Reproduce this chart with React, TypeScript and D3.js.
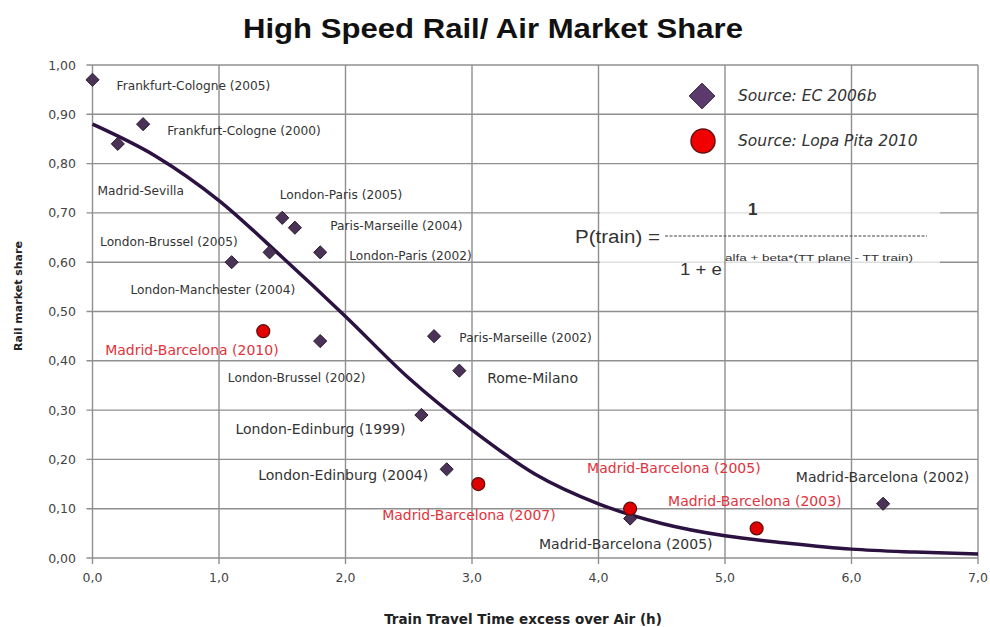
import React, { useRef, useEffect } from "react"
import * as d3 from "d3"

// EC 2006b observations (diamonds)
const ecNames = [
  "Frankfurt-Cologne (2005)",
  "Frankfurt-Cologne (2000)",
  "Madrid-Sevilla",
  "London-Paris (2005)",
  "Paris-Marseille (2004)",
  "London-Brussel (2005)",
  "London-Manchester (2004)",
  "London-Paris (2002)",
  "London-Brussel (2002)",
  "Paris-Marseille (2002)",
  "Rome-Milano",
  "London-Edinburg (1999)",
  "London-Edinburg (2004)",
  "Madrid-Barcelona (2005)",
  "Madrid-Barcelona (2002)",
]
const ecTime = [0.0, 0.4, 0.2, 1.5, 1.6, 1.4, 1.1, 1.8, 1.8, 2.7, 2.9, 2.6, 2.8, 4.25, 6.25]
const ecShare = [0.97, 0.88, 0.84, 0.69, 0.67, 0.62, 0.6, 0.62, 0.44, 0.45, 0.38, 0.29, 0.18, 0.08, 0.11]

// Lopa Pita 2010 observations (circles)
const lpNames = [
  "Madrid-Barcelona (2010)",
  "Madrid-Barcelona (2007)",
  "Madrid-Barcelona (2005)",
  "Madrid-Barcelona (2003)",
]
const lpTime = [1.35, 3.05, 4.25, 5.25]
const lpShare = [0.46, 0.15, 0.1, 0.06]

// fitted logit curve
const curveTime = [0, 0.5, 1, 1.5, 2, 2.5, 3, 3.5, 4, 4.5, 5, 5.5, 6, 6.5, 7]
const curveShare = [0.88, 0.815, 0.725, 0.61, 0.49, 0.365, 0.26, 0.17, 0.11, 0.07, 0.045, 0.03, 0.018, 0.012, 0.008]

const xTicks = [0, 1, 2, 3, 4, 5, 6, 7]
const yTicks = [0, 0.1, 0.2, 0.3, 0.4, 0.5, 0.6, 0.7, 0.8, 0.9, 1.0]

// label anchors (start of text) in data units
const ecLabelTime = [0.19, 0.59, 0.04, 1.48, 1.88, 0.06, 0.3, 2.03, 1.07, 2.9, 3.12, 1.13, 1.31, 3.53, 5.56]
const ecLabelShare = [0.957, 0.866, 0.745, 0.736, 0.673, 0.641, 0.544, 0.613, 0.365, 0.446, 0.363, 0.26, 0.166, 0.026, 0.162]
const lpLabelTime = [0.1, 2.29, 3.91, 4.55]
const lpLabelShare = [0.42, 0.085, 0.18, 0.114]

const bigLabels = new Set([10, 11, 12, 13, 14])

const W = 990
const H = 627

const App: React.FC = () => {
  const svgRef = useRef<SVGSVGElement>(null)

  useEffect(() => {
    if (!svgRef.current) return
    const svg = d3.select(svgRef.current)
    svg.selectAll("*").remove()

    const x = d3.scaleLinear().domain([0, 7]).range([92.5, 978])
    const y = d3.scaleLinear().domain([0, 1]).range([558, 65])
    const gridColor = "#8f8f8f"
    const font = "DejaVu Sans, Verdana, sans-serif"
    const sans = "Liberation Sans, Arial, sans-serif"

    svg.append("rect").attr("width", W).attr("height", H).attr("fill", "#fff")

    // horizontal grid
    svg.selectAll(".hgrid")
      .data(yTicks)
      .enter()
      .append("line")
      .attr("x1", x(0) - 6)
      .attr("x2", x(7))
      .attr("y1", (d) => y(d))
      .attr("y2", (d) => y(d))
      .attr("stroke", gridColor)
      .attr("stroke-width", 1.4)

    // formula backdrop fades the horizontal lines
    svg.append("rect")
      .attr("x", 600)
      .attr("y", 190)
      .attr("width", 340)
      .attr("height", 78)
      .attr("fill", "#fff")
      .attr("opacity", 0.7)

    // vertical grid
    svg.selectAll(".vgrid")
      .data(xTicks)
      .enter()
      .append("line")
      .attr("x1", (d) => x(d))
      .attr("x2", (d) => x(d))
      .attr("y1", y(1))
      .attr("y2", y(0) + 6)
      .attr("stroke", gridColor)
      .attr("stroke-width", 1.4)

    // tick labels
    svg.selectAll(".ylab")
      .data(yTicks)
      .enter()
      .append("text")
      .attr("x", 76)
      .attr("y", (d) => y(d) + 4.5)
      .attr("text-anchor", "end")
      .attr("font-family", font)
      .attr("font-size", 12.5)
      .attr("fill", "#444")
      .text((d) => d3.format(".2f")(d).replace(".", ","))

    svg.selectAll(".xlab")
      .data(xTicks)
      .enter()
      .append("text")
      .attr("x", (d) => x(d))
      .attr("y", 582)
      .attr("text-anchor", "middle")
      .attr("font-family", font)
      .attr("font-size", 12.5)
      .attr("fill", "#444")
      .text((d) => d3.format(".1f")(d).replace(".", ","))

    // title and axis titles
    svg.append("text")
      .attr("x", 243)
      .attr("y", 38)
      .attr("font-family", sans)
      .attr("font-weight", "bold")
      .attr("font-size", 28)
      .attr("textLength", 500)
      .attr("lengthAdjust", "spacingAndGlyphs")
      .attr("fill", "#111")
      .text("High Speed Rail/ Air Market Share")

    svg.append("text")
      .attr("x", 523)
      .attr("y", 624)
      .attr("text-anchor", "middle")
      .attr("font-family", font)
      .attr("font-weight", "bold")
      .attr("font-size", 13.5)
      .attr("fill", "#222")
      .text("Train Travel Time excess over Air (h)")

    svg.append("text")
      .attr("transform", "translate(22,296) rotate(-90)")
      .attr("text-anchor", "middle")
      .attr("font-family", font)
      .attr("font-weight", "bold")
      .attr("font-size", 11)
      .attr("fill", "#222")
      .text("Rail market share")

    // logit curve
    const line = d3
      .line<number>()
      .x((d) => x(d))
      .y((_, i) => y(curveShare[i]))
      .curve(d3.curveMonotoneX)
    svg.append("path")
      .attr("d", line(curveTime))
      .attr("fill", "none")
      .attr("stroke", "#2b1240")
      .attr("stroke-width", 3.5)

    // diamonds
    const diamond = d3.symbol().type(d3.symbolDiamond2).size(110)
    svg.selectAll(".ec")
      .data(ecTime)
      .enter()
      .append("path")
      .attr("d", diamond)
      .attr("transform", (d, i) => `translate(${x(d)},${y(ecShare[i])})`)
      .attr("fill", "#4a3356")
      .attr("stroke", "#2a1a30")
      .attr("stroke-width", 1)

    // circles
    svg.selectAll(".lp")
      .data(lpTime)
      .enter()
      .append("circle")
      .attr("cx", (d) => x(d))
      .attr("cy", (_, i) => y(lpShare[i]))
      .attr("r", 6.5)
      .attr("fill", "#e00000")
      .attr("stroke", "#5a1010")
      .attr("stroke-width", 1.2)

    // point labels
    svg.selectAll(".eclab")
      .data(ecNames)
      .enter()
      .append("text")
      .attr("x", (_, i) => x(ecLabelTime[i]))
      .attr("y", (_, i) => y(ecLabelShare[i]) + 4)
      .attr("font-family", font)
      .attr("font-size", (_, i) => (bigLabels.has(i) ? 14 : 12.2))
      .attr("fill", "#333")
      .text((d) => d)

    svg.selectAll(".lplab")
      .data(lpNames)
      .enter()
      .append("text")
      .attr("x", (_, i) => x(lpLabelTime[i]))
      .attr("y", (_, i) => y(lpLabelShare[i]) + 4)
      .attr("font-family", font)
      .attr("font-size", 14)
      .attr("fill", "#e2323c")
      .text((d) => d)

    // legend
    const legend = svg.append("g")
    legend.append("path")
      .attr("d", d3.symbol().type(d3.symbolDiamond2).size(420)())
      .attr("transform", "translate(702,96)")
      .attr("fill", "#5c3a6e")
      .attr("stroke", "#2a1a30")
    legend.append("text")
      .attr("x", 738)
      .attr("y", 101)
      .attr("font-family", font)
      .attr("font-style", "italic")
      .attr("font-size", 15.5)
      .attr("fill", "#333")
      .text("Source: EC 2006b")
    legend.append("circle")
      .attr("cx", 703)
      .attr("cy", 141)
      .attr("r", 12)
      .attr("fill", "#f00000")
      .attr("stroke", "#6a1010")
      .attr("stroke-width", 1.5)
    legend.append("text")
      .attr("x", 738)
      .attr("y", 146)
      .attr("font-family", font)
      .attr("font-style", "italic")
      .attr("font-size", 15.5)
      .attr("fill", "#333")
      .text("Source: Lopa Pita 2010")

    // formula
    const f = svg.append("g").attr("font-family", sans).attr("fill", "#333")
    f.append("text")
      .attr("x", 575)
      .attr("y", 243)
      .attr("font-size", 18)
      .attr("textLength", 85)
      .attr("lengthAdjust", "spacingAndGlyphs")
      .text("P(train) =")
    f.append("line")
      .attr("x1", 665)
      .attr("x2", 927)
      .attr("y1", 236)
      .attr("y2", 236)
      .attr("stroke", "#444")
      .attr("stroke-width", 1)
      .attr("stroke-dasharray", "3,1.5")
    f.append("text").attr("x", 748).attr("y", 215).attr("font-size", 17).attr("font-weight", "bold").text("1")
    f.append("text")
      .attr("x", 680)
      .attr("y", 275)
      .attr("font-size", 17)
      .attr("textLength", 42)
      .attr("lengthAdjust", "spacingAndGlyphs")
      .text("1 + e")
    f.append("text")
      .attr("x", 725)
      .attr("y", 261)
      .attr("font-size", 9)
      .attr("textLength", 188)
      .attr("lengthAdjust", "spacingAndGlyphs")
      .text("alfa + beta*(TT plane - TT train)")
  }, [])

  return (
    <div style={{ position: "absolute", left: 0, top: 0 }}>
      <svg ref={svgRef} width={W} height={H} style={{ display: "block" }} />
    </div>
  )
}

export default App
